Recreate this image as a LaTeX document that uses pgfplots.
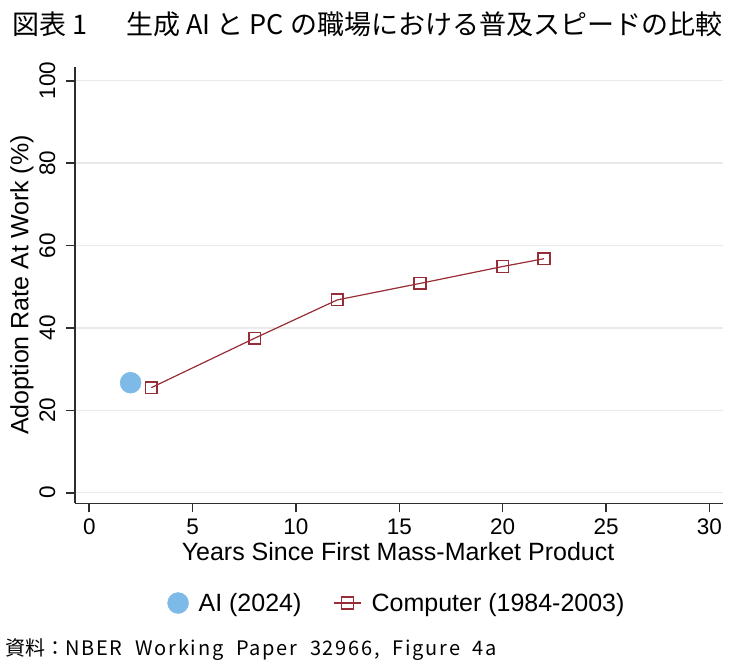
\documentclass[border=0pt]{standalone}
\usepackage{fontspec}
\setmainfont{Liberation Sans}
\newfontfamily\cjk{Noto Sans CJK JP}
\newfontfamily\cjkls{Noto Sans CJK JP}[LetterSpace=9]
\usepackage{pgfplots}
\pgfplotsset{compat=1.18}
\definecolor{aiblue}{RGB}{125,186,232}
\definecolor{pcred}{RGB}{150,45,55}
\definecolor{axgray}{RGB}{45,45,45}
\definecolor{gridgray}{RGB}{234,234,234}
\pgfplotsset{
  ailegend/.style={legend image code/.code={\draw[#1,only marks] plot coordinates {(10bp,0bp)};}},
  pclegend/.style={legend image code/.code={\draw[#1,mark=none] (0bp,0bp) -- (27bp,0bp); \draw[#1,only marks] plot coordinates {(13.5bp,0bp)};}},
}
\begin{document}
\begin{tikzpicture}[x=1bp,y=1bp]
\useasboundingbox (0,0) rectangle (732,-662);
\node[anchor=base west,inner sep=0] at (12,-35) {\cjk\fontsize{27bp}{29bp}\selectfont 図表 1\hspace{39bp}生成 AI と PC の職場における普及スピードの比較};
\node[anchor=base west,inner sep=0] at (5,-655) {\cjk\fontsize{20bp}{22bp}\selectfont 資料：{\cjkls NBER\ \ Working\ \ Paper\ \ 32966,\ \ Figure\ \ 4a}};
\begin{axis}[
 at={(75bp,-503.3bp)}, anchor=south west, scale only axis,
 width=648bp, height=436.6bp,
 xmin=-0.69, xmax=30.66, ymin=-2.57, ymax=103.4,
 axis x line*=bottom, axis y line*=left,
 axis line style={axgray, line width=1.6bp},
 xtick={0,5,...,30}, ytick={0,20,...,100},
 tick align=outside, major tick length=9bp,
 every tick/.style={axgray, line width=1.6bp},
 ymajorgrids, grid style={gridgray, line width=1.5bp},
 ticklabel style={font=\fontsize{22.5bp}{24bp}\selectfont},
 /pgf/number format/assume math mode=true,
 yticklabel style={xshift=-11bp, rotate=90, anchor=base, inner sep=0pt},
 xticklabel style={yshift=-22bp, anchor=base, inner sep=0pt},
 yticklabel shift=0bp, xticklabel shift=0bp,
 ylabel={Adoption Rate At Work (\%)},
 xlabel={Years Since First Mass-Market Product},
 label style={font=\fontsize{25bp}{27bp}\selectfont, inner sep=0pt},
 ylabel style={at={(axis description cs:-0.072,0.5)}, anchor=base, rotate=0},
 xlabel style={at={(axis description cs:0.4985,-0.13)}, anchor=base},
 legend style={at={(axis description cs:0.497,-0.2284)}, anchor=center, draw=none, fill=none,
   font=\fontsize{25bp}{27bp}\selectfont, inner sep=0pt,
   /tikz/every odd column/.append style={column sep=8bp},
   /tikz/every even column/.append style={column sep=30bp}},
 legend columns=2,
 legend cell align=left,
 clip=false,
]
\addplot[only marks, mark=*, mark size=10.5bp, color=aiblue, ailegend]
  coordinates {(2,26.7)};
\addlegendentry{AI (2024)}
\addplot[pcred, line width=1.2bp, mark=square, mark size=5.8bp, mark options={line width=1.5bp}, pclegend]
  coordinates {(3,25.5)(8,37.5)(12,46.8)(16,50.8)(20,54.9)(22,56.8)};
\addlegendentry{Computer (1984-2003)}
\end{axis}
\end{tikzpicture}
\end{document}
